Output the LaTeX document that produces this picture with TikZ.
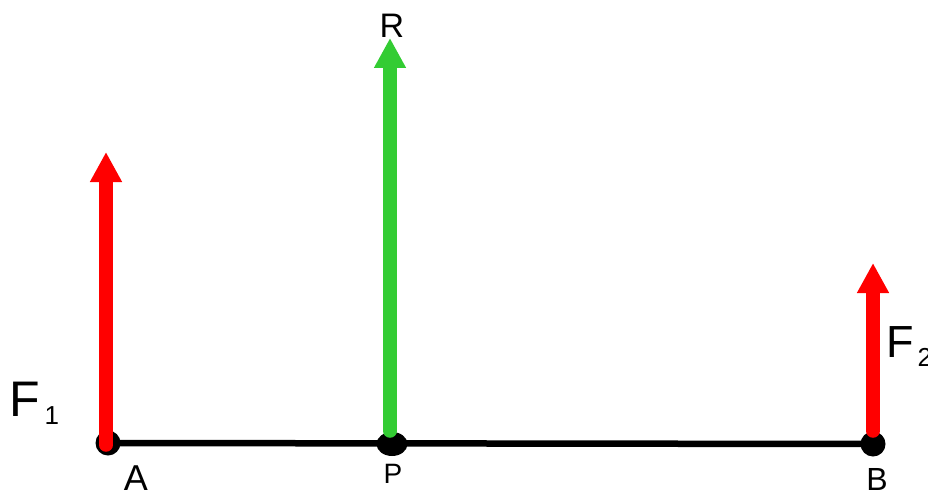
\documentclass[tikz,border=0pt]{standalone}
\usepackage{fontspec}
\setmainfont{Liberation Sans}
\usetikzlibrary{arrows.meta,shapes.geometric}
\definecolor{fgreen}{RGB}{51,204,51}
\definecolor{fred}{RGB}{255,0,0}
\tikzset{
  force/.style={line width=13.5pt, line cap=round, -{Triangle[length=30pt,width=30pt]}},
  dotc/.style={fill=black, circle, inner sep=0pt, minimum size=25pt},
  lbl/.style={inner sep=0pt, text=black}
}
\begin{document}
\begin{tikzpicture}[x=1pt,y=-1pt]
\useasboundingbox (0,0) rectangle (928,492);
% points
\coordinate (A) at (108,443);
\coordinate (P) at (392,443);
\coordinate (B) at (873,444);
\draw[line width=6.5pt] (A) -- (B);
\node[dotc] (dA) at (A) {};
\node[fill=black, ellipse, inner sep=0pt, minimum width=31pt, minimum height=24pt] (dP) at (392,444) {};
\node[dotc] (dB) at (B) {};
% force arrows
\coordinate (F1b) at (106,445);
\coordinate (F1t) at (106,152);
\coordinate (Rb) at (390,431);
\coordinate (Rt) at (390,38);
\coordinate (F2b) at (873,431);
\coordinate (F2t) at (873,263);
\draw[force, fred] (F1b) -- (F1t);
\draw[force, fgreen] (Rb) -- (Rt);
\draw[force, fred] (F2b) -- (F2t);
% labels
\node[lbl, anchor=base west, font=\fontsize{50}{50}\selectfont] (lF1) at (9,416) {F\hspace{5pt}\raisebox{-8pt}{\fontsize{26}{26}\selectfont 1}};
\node[lbl, anchor=base west, font=\fontsize{45}{45}\selectfont] (lF2) at (886,357) {F\hspace{4pt}\raisebox{-9pt}{\fontsize{26}{26}\selectfont 2}};
\node[lbl, anchor=base, font=\fontsize{34}{34}\selectfont] (lR) at (392,38) {R};
\node[lbl, anchor=base, font=\fontsize{28}{28}\selectfont] (lP) at (393,483) {P};
\node[lbl, anchor=base, font=\fontsize{36}{36}\selectfont] (lA) at (136,490) {A};
\node[lbl, anchor=base, font=\fontsize{32}{32}\selectfont] (lB) at (877,490) {B};
\end{tikzpicture}
\end{document}
